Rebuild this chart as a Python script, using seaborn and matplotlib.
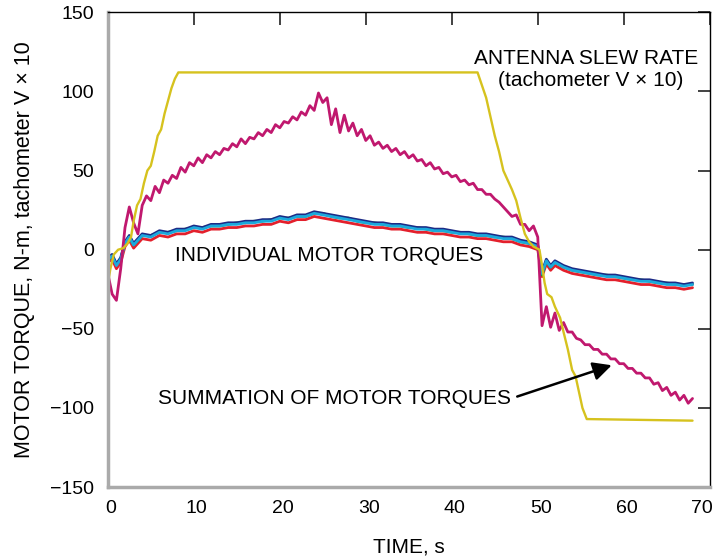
import numpy as np
import seaborn as sns
import matplotlib.pyplot as plt
import matplotlib.transforms as mtransforms

# summation of motor torques, sampled every 0.5 s
t_sum = [0, 0.5, 1, 1.5, 2, 2.5, 3, 3.5, 4, 4.5,
         5, 5.5, 6, 6.5, 7, 7.5, 8, 8.5, 9, 9.5,
         10, 10.5, 11, 11.5, 12, 12.5, 13, 13.5, 14, 14.5,
         15, 15.5, 16, 16.5, 17, 17.5, 18, 18.5, 19, 19.5,
         20, 20.5, 21, 21.5, 22, 22.5, 23, 23.5, 24, 24.5,
         25, 25.5, 26, 26.5, 27, 27.5, 28, 28.5, 29, 29.5,
         30, 30.5, 31, 31.5, 32, 32.5, 33, 33.5, 34, 34.5,
         35, 35.5, 36, 36.5, 37, 37.5, 38, 38.5, 39, 39.5,
         40, 40.5, 41, 41.5, 42, 42.5, 43, 43.5, 44, 44.5,
         45, 45.5, 46, 46.5, 47, 47.5, 48, 48.5, 49, 49.5,
         50, 50.5, 51, 51.5, 52, 52.5, 53, 53.5, 54, 54.5,
         55, 55.5, 56, 56.5, 57, 57.5, 58, 58.5, 59, 59.5,
         60, 60.5, 61, 61.5, 62, 62.5, 63, 63.5, 64, 64.5,
         65, 65.5, 66, 66.5, 67, 67.5, 68]
summation = [-15, -28, -32, -12, 14, 27, 17, 10, 28, 34,
             31, 40, 36, 44, 42, 47, 45, 52, 49, 55,
             53, 58, 55, 60, 58, 62, 60, 64, 63, 67,
             65, 70, 67, 71, 70, 74, 72, 76, 74, 79,
             77, 81, 80, 84, 82, 87, 85, 91, 88, 99,
             93, 96, 79, 89, 74, 85, 75, 80, 72, 76,
             69, 72, 66, 68, 64, 66, 62, 64, 60, 62,
             58, 60, 56, 57, 53, 55, 51, 52, 48, 49,
             46, 47, 43, 44, 41, 42, 38, 38, 35, 35,
             32, 30, 27, 24, 21, 22, 16, 16, 12, 15,
             8, -48, -36, -49, -40, -51, -46, -52, -52, -56,
             -57, -60, -60, -63, -63, -66, -66, -69, -69, -72,
             -72, -75, -75, -78, -78, -81, -81, -85, -84, -89,
             -87, -92, -90, -95, -92, -97, -94]

# antenna slew rate (tachometer V x 10)
t_slew = [0, 0.3, 0.7, 1.2, 1.8, 2.3, 2.7, 3.0, 3.4, 3.8, 4.2, 4.6, 5.0,
          5.4, 5.8, 6.2, 6.6, 7.0, 7.4, 7.8, 8.2, 43.0, 43.5, 44.0, 44.5,
          45.0, 45.5, 46.0, 46.5, 47.0, 47.5, 48.0, 48.5, 49.0, 49.5, 50.2,
          50.5, 50.8, 51.1, 51.6, 52.0, 52.6, 53.0, 53.5, 54.0, 54.4, 54.8,
          55.2, 55.7, 68.0]
slew = [-22, -12, -3, 0, 1, 4, 8, 18, 28, 32, 42, 50, 53,
        62, 72, 76, 86, 94, 102, 108, 112, 112, 104, 96, 84,
        72, 62, 50, 44, 38, 31, 20, 10, 5, 2, 0,
        -10, -21, -28, -30, -36, -43, -52, -63, -76, -80, -90,
        -100, -107, -108]

# individual motor torques
t_motor = [0, 0.5, 1, 1.5, 2, 2.5, 3, 3.5, 4,
           5, 6, 7, 8, 9, 10, 11, 12, 13, 14,
           15, 16, 17, 18, 19, 20, 21, 22, 23, 24,
           25, 26, 27, 28, 29, 30, 31, 32, 33, 34,
           35, 36, 37, 38, 39, 40, 41, 42, 43, 44,
           45, 46, 47, 48, 49,
           49.5, 50, 50.5, 51, 51.5, 52,
           53, 54, 55, 56, 57, 58, 59, 60, 61, 62, 63, 64, 65, 66, 67, 68]
motor_red = [-8, -6, -12, -8, 2, 6, 1, 4, 7,
             6, 9, 8, 10, 10, 12, 11, 13, 13, 14,
             14, 15, 15, 16, 16, 18, 17, 19, 19, 21,
             20, 19, 18, 17, 16, 15, 14, 14, 13, 13,
             12, 11, 11, 10, 10, 9, 8, 8, 7, 7,
             6, 5, 5, 3, 2,
             1, 0, -17, -9, -13, -10,
             -13, -15, -16, -17, -18, -19, -19, -20, -21, -22, -22, -23, -24, -24, -25, -24]
motor_green = [-7, -4, -9, -6, 5, 8, 3, 6, 9,
               9, 11, 11, 12, 13, 14, 14, 15, 15, 16,
               17, 17, 18, 18, 19, 20, 20, 21, 21, 23,
               23, 21, 20, 20, 18, 17, 17, 16, 15, 15,
               14, 14, 13, 12, 12, 11, 11, 10, 9, 9,
               8, 8, 7, 5, 4,
               3, 2, -16, -7, -11, -8,
               -11, -13, -14, -15, -16, -16, -17, -18, -19, -19, -20, -21, -21, -22, -22, -22]
motor_navy = [-5, -3, -9, -5, 5, 9, 4, 7, 10,
              9, 12, 11, 13, 13, 15, 14, 16, 16, 17,
              17, 18, 18, 19, 19, 21, 20, 22, 22, 24,
              23, 22, 21, 20, 19, 18, 17, 17, 16, 16,
              15, 14, 14, 13, 13, 12, 11, 11, 10, 10,
              9, 8, 8, 6, 5,
              4, 3, -14, -6, -10, -7,
              -10, -12, -13, -14, -15, -16, -16, -17, -18, -19, -19, -20, -21, -21, -22, -21]
motor_cyan = [-6, -4, -10, -6, 4, 8, 3, 6, 9,
              8, 11, 10, 12, 12, 14, 13, 15, 15, 16,
              16, 17, 17, 18, 18, 20, 19, 21, 21, 23,
              22, 21, 20, 19, 18, 17, 16, 16, 15, 15,
              14, 13, 13, 12, 12, 11, 10, 10, 9, 9,
              8, 7, 7, 5, 4,
              3, 2, -15, -7, -11, -8,
              -11, -13, -14, -15, -16, -17, -17, -18, -19, -20, -20, -21, -22, -22, -23, -22]

sns.set_style("white")
plt.rcParams['font.family'] = ['Liberation Sans', 'DejaVu Sans']
plt.rcParams['text.color'] = 'black'
plt.rcParams['axes.labelcolor'] = 'black'

fig, ax = plt.subplots(figsize=(7.14, 5.58), dpi=100)
fig.subplots_adjust(left=0.151, right=0.994, top=0.978, bottom=0.127)

for vals, col in [(motor_red, '#e3202c'), (motor_green, '#1f9a46'),
                  (motor_navy, '#1c2b86'), (motor_cyan, '#1ba9dc')]:
    sns.lineplot(x=t_motor, y=vals, color=col, lw=2.0, ax=ax, sort=False)
sns.lineplot(x=t_sum, y=summation, color='#c0186e', lw=2.0, ax=ax, sort=False)
sns.lineplot(x=t_slew, y=slew, color='#d6c21e', lw=1.7, ax=ax, sort=False)

ax.set_xlim(0, 70)
ax.set_ylim(-150, 150)
ax.set_xticks([0, 10, 20, 30, 40, 50, 60, 70])
ax.set_yticks([-150, -100, -50, 0, 50, 100, 150])
ax.tick_params(direction='in', length=9, width=1.3, color='#333333',
               labelcolor='black', top=True, right=True, labelsize=14)
ax.tick_params(axis='x', pad=9)
ax.tick_params(axis='y', pad=10)
for side in ['left', 'bottom']:
    ax.spines[side].set_color('#aaaaaa')
    ax.spines[side].set_linewidth(2.5)
for side in ['top', 'right']:
    ax.spines[side].set_color('black')
    ax.spines[side].set_linewidth(1.0)

# x tick labels sit a little right of their ticks; last one kept inside
shift = mtransforms.ScaledTranslation(3 / 100, 0, fig.dpi_scale_trans)
xlabels = ax.get_xticklabels()
for lab in xlabels:
    lab.set_transform(lab.get_transform() + shift)
xlabels[-1].set_horizontalalignment('right')

ax.set_xlabel('TIME, s', fontsize=15, labelpad=15)
ax.set_ylabel('MOTOR TORQUE, N-m, tachometer V \u00d7 10', fontsize=15.5, labelpad=11)

ax.text(55.6, 121, 'ANTENNA SLEW RATE', fontsize=15, ha='center', va='center')
ax.text(56.2, 107, '(tachometer V \u00d7 10)', fontsize=15, ha='center', va='center')
ax.text(25.7, -3.5, 'INDIVIDUAL MOTOR TORQUES', fontsize=15, ha='center', va='center')
ax.annotate('SUMMATION OF MOTOR TORQUES', xy=(58.6, -73), xytext=(26.4, -94),
            fontsize=15, ha='center', va='center',
            arrowprops=dict(arrowstyle='-|>', color='black', lw=1.8,
                            mutation_scale=28, shrinkA=2, shrinkB=0,
                            relpos=(1.0, 0.5)))

fig.savefig('out.png', dpi=100)
